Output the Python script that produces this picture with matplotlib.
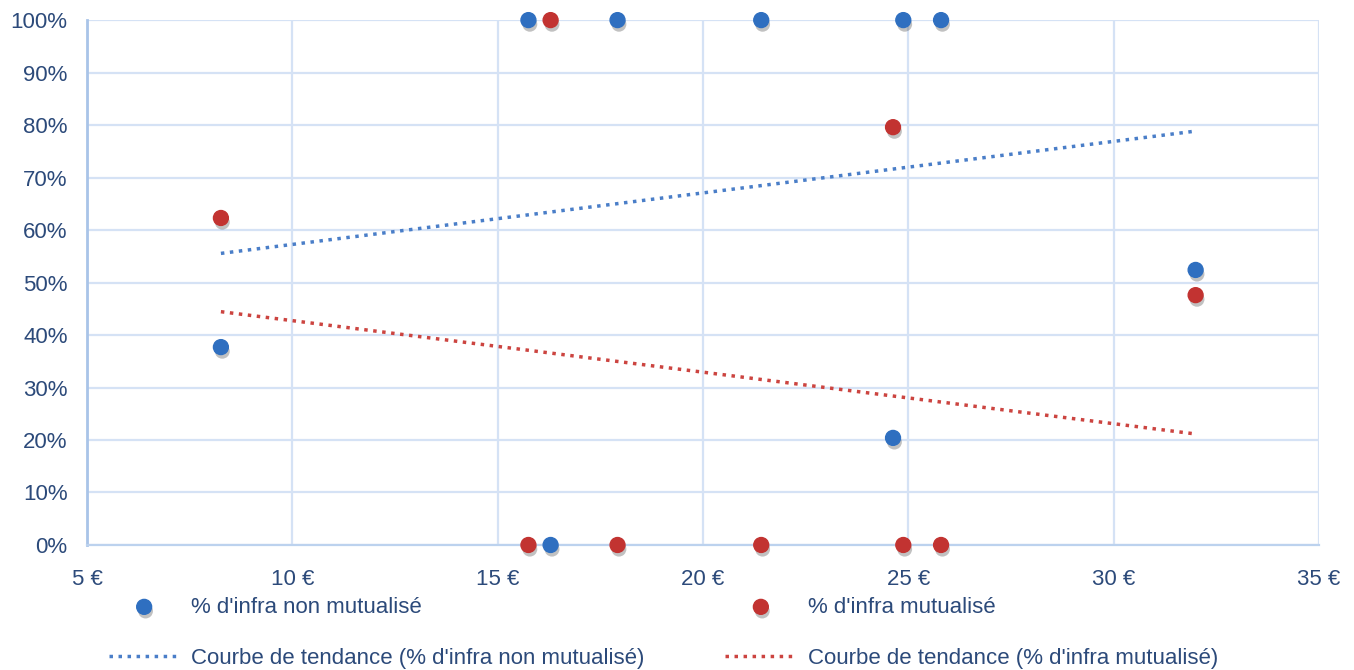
import numpy as np
import matplotlib.pyplot as plt
import matplotlib.patheffects as pe
from matplotlib.ticker import FuncFormatter

plt.rcParams['font.family'] = ['Liberation Sans', 'DejaVu Sans']

# prix (€) et part d'infra
prix = [8.26, 15.75, 16.29, 17.92, 21.42, 24.63, 24.88, 25.80, 32.0]
non_mutualise = [37.7, 100, 0, 100, 100, 20.4, 100, 100, 52.4]
mutualise = [62.3, 0, 100, 0, 0, 79.6, 0, 0, 47.6]

x_ticks = [5, 10, 15, 20, 25, 30, 35]
y_ticks = [0, 10, 20, 30, 40, 50, 60, 70, 80, 90, 100]

BLEU = '#2f6fc0'
ROUGE = '#c23331'
TXT = '#2c4a7a'
GRILLE = '#d5e2f5'

fig = plt.figure(figsize=(13.54, 6.70), dpi=100)
ax = fig.add_axes([0.0643, 0.1866, 0.9097, 0.7834])

ombre = [pe.SimplePatchShadow(offset=(1, -3), alpha=0.3, shadow_rgbFace='#333333'), pe.Normal()]

sc1 = ax.scatter(prix, non_mutualise, s=115, color=BLEU, zorder=4, clip_on=False,
                 path_effects=ombre, label="% d'infra non mutualisé")
sc2 = ax.scatter(prix, mutualise, s=115, color=ROUGE, zorder=4, clip_on=False,
                 path_effects=ombre, label="% d'infra mutualisé")

# courbes de tendance linéaires
xs = np.array([min(prix), max(prix)])
a1, b1 = np.polyfit(prix, non_mutualise, 1)
a2, b2 = np.polyfit(prix, mutualise, 1)
l1, = ax.plot(xs, a1 * xs + b1, color='#4a7ec8', lw=2.5, ls=(0, (1, 1.6)), zorder=3,
              label="Courbe de tendance (% d'infra non mutualisé)")
l2, = ax.plot(xs, a2 * xs + b2, color='#cc4440', lw=2.5, ls=(0, (1, 1.6)), zorder=3,
              label="Courbe de tendance (% d'infra mutualisé)")

ax.set_xlim(5, 35)
ax.set_ylim(0, 100)
ax.set_xticks(x_ticks)
ax.set_yticks(y_ticks)
ax.xaxis.set_major_formatter(FuncFormatter(lambda v, p: f"{v:.0f} €"))
ax.yaxis.set_major_formatter(FuncFormatter(lambda v, p: f"{v:.0f}%"))
ax.tick_params(length=0, labelsize=16, labelcolor=TXT)
ax.tick_params(axis='x', pad=17)
ax.tick_params(axis='y', pad=14)
ax.grid(True, color=GRILLE, lw=1.6)
ax.set_axisbelow(True)
for s in ['top', 'right']:
    ax.spines[s].set_visible(False)
ax.spines['left'].set_color('#a9c4e8')
ax.spines['left'].set_linewidth(2)
ax.spines['bottom'].set_color('#bcd2ee')
ax.spines['bottom'].set_linewidth(1.6)

fig.legend(handles=[sc1, l1, sc2, l2], ncol=2, loc='upper left',
           bbox_to_anchor=(0.072, 0.126), frameon=False, fontsize=16, borderpad=0,
           labelcolor=TXT, columnspacing=3.65, handlelength=3.2, labelspacing=1.36,
           handletextpad=0.5)

fig.savefig('out.png', dpi=100)
